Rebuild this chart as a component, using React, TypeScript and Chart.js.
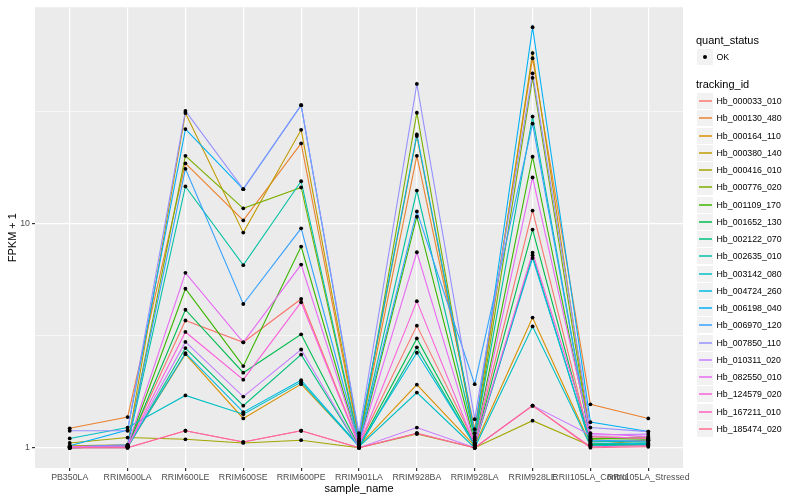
import React, { useEffect, useRef } from 'react';
import { Chart, registerables } from 'chart.js';

Chart.register(...registerables);

const categories = [
  'PB350LA', 'RRIM600LA', 'RRIM600LE', 'RRIM600SE', 'RRIM600PE', 'RRIM901LA',
  'RRIM928BA', 'RRIM928LA', 'RRIM928LE', 'RRII105LA_Control', 'RRII105LA_Stressed',
];

const seriesNames = [
  'Hb_000033_010', 'Hb_000130_480', 'Hb_000164_110', 'Hb_000380_140', 'Hb_000416_010',
  'Hb_000776_020', 'Hb_001109_170', 'Hb_001652_130', 'Hb_002122_070', 'Hb_002635_010',
  'Hb_003142_080', 'Hb_004724_260', 'Hb_006198_040', 'Hb_006970_120', 'Hb_007850_110',
  'Hb_010311_020', 'Hb_082550_010', 'Hb_124579_020', 'Hb_167211_010', 'Hb_185474_020',
];

const seriesColors = [
  '#F8766D', '#EA8331', '#D89000', '#C09B00', '#A3A500',
  '#7CAE00', '#39B600', '#00BB4E', '#00BF7D', '#00C1A3',
  '#00BFC4', '#00BAE0', '#00B0F6', '#35A2FF', '#9590FF',
  '#C77CFF', '#E76BF3', '#FA62DB', '#FF62BC', '#FF6C91',
];

// FPKM + 1 values per tracking_id, in category order
const hb000033 = [1.01, 1.02, 3.69, 2.95, 4.6, 1.03, 3.5, 1.05, 11.4, 1.06, 1.08];
const hb000130 = [1.22, 1.37, 18.5, 10.3, 22.7, 1.08, 20.0, 1.21, 54.4, 1.56, 1.35];
const hb000164 = [1.01, 1.01, 2.61, 1.35, 1.92, 1.02, 1.91, 1.02, 3.8, 1.03, 1.08];
const hb000380 = [1.02, 1.03, 31.0, 9.09, 26.1, 1.1, 24.5, 1.12, 57.4, 1.12, 1.1];
const hb000416 = [1.05, 1.11, 1.09, 1.05, 1.08, 1.0, 1.15, 1.0, 1.32, 1.02, 1.03];
const hb000776 = [1.01, 1.02, 20.0, 11.66, 14.45, 1.04, 31.1, 1.08, 44.5, 1.09, 1.12];
const hb001109 = [1.0, 1.01, 5.11, 2.31, 7.88, 1.02, 10.7, 1.05, 19.8, 1.1, 1.09];
const hb001652 = [1.0, 1.01, 4.12, 2.16, 3.2, 1.01, 3.07, 1.03, 9.38, 1.04, 1.05];
const hb002122 = [1.0, 1.0, 2.78, 1.54, 2.6, 1.0, 2.8, 1.02, 7.2, 1.03, 1.04];
const hb002635 = [1.01, 1.02, 14.6, 6.51, 15.4, 1.06, 14.0, 1.1, 29.9, 1.07, 1.06];
const hb003142 = [1.1, 1.23, 1.71, 1.41, 1.96, 1.01, 1.76, 1.0, 3.47, 1.02, 1.03];
const hb004724 = [1.0, 1.01, 2.64, 1.44, 2.0, 1.02, 2.65, 1.03, 7.0, 1.05, 1.04];
const hb006198 = [1.02, 1.2, 26.3, 14.2, 33.6, 1.13, 24.9, 1.16, 74.8, 1.3, 1.18];
const hb006970 = [1.01, 1.03, 17.5, 4.37, 9.5, 1.05, 11.3, 1.92, 27.8, 1.08, 1.07];
const hb007850 = [1.19, 1.19, 31.7, 14.2, 33.6, 1.16, 41.8, 1.34, 46.6, 1.23, 1.18];
const hb010311 = [1.0, 1.01, 2.96, 1.69, 2.74, 1.0, 1.23, 1.0, 1.54, 1.14, 1.15];
const hb082550 = [1.01, 1.02, 6.02, 2.95, 6.55, 1.03, 7.43, 1.04, 16.0, 1.16, 1.12];
const hb124579 = [1.0, 1.01, 3.28, 2.01, 4.45, 1.02, 4.5, 1.03, 7.4, 1.12, 1.1];
const hb167211 = [1.0, 1.0, 1.19, 1.06, 1.19, 1.0, 1.16, 1.0, 1.54, 1.01, 1.02];
const hb185474 = [1.0, 1.0, 1.19, 1.06, 1.19, 1.0, 1.16, 1.0, 1.54, 1.0, 1.01];

const seriesValues = [
  hb000033, hb000130, hb000164, hb000380, hb000416,
  hb000776, hb001109, hb001652, hb002122, hb002635,
  hb003142, hb004724, hb006198, hb006970, hb007850,
  hb010311, hb082550, hb124579, hb167211, hb185474,
];

const yTickValues = [1, 3.1623, 10, 31.623];
const yTickLabels = ['1', '', '10', ''];

const FONT = '"Liberation Sans", Arial, Helvetica, sans-serif';

const panelBg = {
  id: 'panelBg',
  beforeDraw(chart: any) {
    const { ctx, chartArea } = chart;
    if (!chartArea) return;
    ctx.save();
    ctx.fillStyle = '#EBEBEB';
    ctx.fillRect(chartArea.left, chartArea.top, chartArea.right - chartArea.left, chartArea.bottom - chartArea.top);
    ctx.restore();
  },
};

export default function App() {
  const canvasRef = useRef<HTMLCanvasElement | null>(null);

  useEffect(() => {
    if (!canvasRef.current) return;
    const lineSets = seriesValues.map((vals, si) => ({
      type: 'line' as const,
      label: seriesNames[si],
      data: vals.map((v, i) => ({ x: i, y: v })),
      borderColor: seriesColors[si],
      backgroundColor: seriesColors[si],
      borderWidth: 1.1,
      pointRadius: 0,
      tension: 0,
      fill: false,
      order: seriesValues.length - si + 1,
    }));
    const pointData: { x: number; y: number }[] = [];
    seriesValues.forEach((vals) => vals.forEach((v, i) => pointData.push({ x: i, y: v })));
    const pointSet = {
      type: 'line' as const,
      label: 'OK',
      data: pointData,
      showLine: false,
      borderColor: '#000000',
      backgroundColor: '#000000',
      borderWidth: 0,
      pointRadius: 1.9,
      pointStyle: 'circle',
      order: 0,
    };

    const chart = new Chart(canvasRef.current, {
      type: 'line',
      data: { datasets: [...lineSets, pointSet] as any },
      plugins: [panelBg],
      options: {
        animation: false,
        responsive: true,
        maintainAspectRatio: false,
        layout: { padding: { left: 0, top: 6, right: 117, bottom: 0 } },
        plugins: { legend: { display: false }, tooltip: { enabled: false } },
        scales: {
          x: {
            type: 'linear',
            min: -0.6,
            max: 10.6,
            afterBuildTicks: (s: any) => {
              s.ticks = categories.map((_, i) => ({ value: i }));
            },
            afterFit: (s: any) => {
              s.height = 32;
            },
            ticks: {
              autoSkip: false,
              maxRotation: 0,
              minRotation: 0,
              color: '#4D4D4D',
              font: { family: FONT, size: 8.8 },
              padding: 1,
              callback: (v: any) => categories[Math.round(Number(v))] ?? '',
            },
            grid: { color: '#FFFFFF', lineWidth: 1.2, tickLength: 3, tickColor: '#333333', drawTicks: true },
            border: { display: false },
            title: {
              display: true,
              text: 'sample_name',
              color: '#000000',
              font: { family: FONT, size: 11 },
              padding: { top: 0, bottom: 4 },
            },
          },
          y: {
            type: 'logarithmic',
            min: 0.812,
            max: 91.8,
            afterBuildTicks: (s: any) => {
              s.ticks = yTickValues.map((v) => ({ value: v }));
            },
            afterFit: (s: any) => {
              s.width = 35;
            },
            ticks: {
              color: '#4D4D4D',
              font: { family: FONT, size: 8.8 },
              padding: 2,
              autoSkip: false,
              callback: (v: any) => {
                const idx = yTickValues.findIndex((t) => Math.abs(t - Number(v)) < 1e-3);
                return idx >= 0 ? yTickLabels[idx] : '';
              },
            },
            grid: {
              color: '#FFFFFF',
              lineWidth: (ctx: any) => (ctx.tick && (ctx.tick.value === 1 || ctx.tick.value === 10) ? 1.2 : 0.6),
              tickColor: (ctx: any) =>
                ctx.tick && (ctx.tick.value === 1 || ctx.tick.value === 10) ? '#333333' : 'rgba(0,0,0,0)',
              tickLength: 3,
              drawTicks: true,
            },
            border: { display: false },
            title: {
              display: true,
              text: 'FPKM + 1',
              color: '#000000',
              font: { family: FONT, size: 11 },
              padding: { top: 6, bottom: 0 },
            },
          },
        },
      } as any,
    });
    return () => chart.destroy();
  }, []);

  const itemTop = 101;
  const itemStep = 17.26;

  return (
    <div style={{ position: 'absolute', left: 0, top: 0, width: 800, height: 500, background: '#FFFFFF', fontFamily: FONT }}>
      <div style={{ position: 'absolute', left: 0, top: 0, width: 800, height: 500 }}>
        <canvas ref={canvasRef} />
      </div>
      <div style={{ position: 'absolute', left: 696, top: 34, fontSize: 11, lineHeight: '13px', color: '#000', whiteSpace: 'nowrap' }}>
        quant_status
      </div>
      <div style={{ position: 'absolute', left: 697, top: 49, width: 16, height: 16, background: '#F2F2F2' }} />
      <div style={{ position: 'absolute', left: 703, top: 55, width: 4, height: 4, borderRadius: '50%', background: '#000' }} />
      <div style={{ position: 'absolute', left: 716.5, top: 52, fontSize: 8.8, lineHeight: '10px', color: '#000', whiteSpace: 'nowrap' }}>
        OK
      </div>
      <div style={{ position: 'absolute', left: 696, top: 77.5, fontSize: 11, lineHeight: '13px', color: '#000', whiteSpace: 'nowrap' }}>
        tracking_id
      </div>
      {seriesNames.map((name, i) => {
        const cy = itemTop + itemStep * i;
        const rc = Math.round(cy);
        return (
          <React.Fragment key={name}>
            <div style={{ position: 'absolute', left: 697, top: rc - 8, width: 16, height: 16, background: '#F2F2F2' }} />
            <div style={{ position: 'absolute', left: 699, top: rc - 1, width: 13, height: 2, background: seriesColors[i], opacity: 0.75 }} />
            <div style={{ position: 'absolute', left: 716.5, top: cy - 5, fontSize: 8.8, lineHeight: '10px', color: '#000', whiteSpace: 'nowrap' }}>
              {name}
            </div>
          </React.Fragment>
        );
      })}
    </div>
  );
}
